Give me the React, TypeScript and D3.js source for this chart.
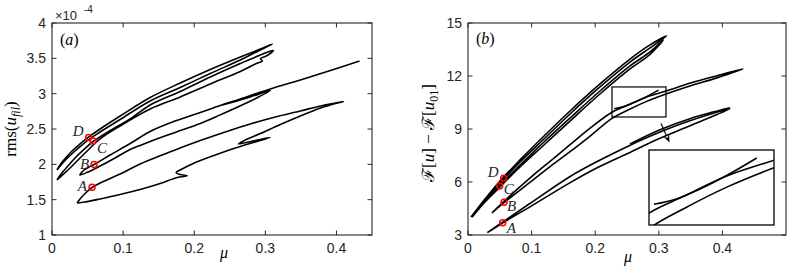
import React from "react";
import * as d3 from "d3";

type Pt = [number, number];

// ---------- panel (a): rms(u_fil) (x 1e-4) against mu ----------
const muTicksA = [0, 0.1, 0.2, 0.3, 0.4];
const rmsTicks = [1, 1.5, 2, 2.5, 3, 3.5, 4];

// branch through A (lower loop, with the small wedge and hook)
const rmsLoopA: Pt[] = [
  [0.0352, 1.453], [0.0394, 1.51], [0.0465, 1.587], [0.0563, 1.672], [0.0676, 1.736],
  [0.0958, 1.863], [0.1239, 2.005], [0.1549, 2.132], [0.1803, 2.231], [0.2085, 2.337],
  [0.2437, 2.458], [0.2789, 2.571], [0.3141, 2.67], [0.3493, 2.755], [0.3775, 2.826],
  [0.3986, 2.868], [0.4099, 2.889],
  [0.3986, 2.861], [0.3775, 2.797], [0.3493, 2.684], [0.3211, 2.564], [0.293, 2.436],
  [0.2718, 2.344], [0.262, 2.288],
  [0.2859, 2.337], [0.307, 2.38], [0.2831, 2.309], [0.2577, 2.231],
  [0.2296, 2.132], [0.1986, 2.012], [0.1803, 1.92], [0.1746, 1.885], [0.1803, 1.856],
  [0.1901, 1.838], [0.1761, 1.814], [0.1521, 1.729], [0.1239, 1.644], [0.0958, 1.573],
  [0.0676, 1.51], [0.0465, 1.467], [0.0352, 1.453],
];

// branch through B
const rmsLoopB: Pt[] = [
  [0.2394, 2.84], [0.2732, 2.935], [0.307, 3.045], [0.2718, 2.86], [0.2366, 2.7],
  [0.2085, 2.578], [0.1732, 2.451], [0.138, 2.323], [0.1099, 2.21], [0.0887, 2.09],
  [0.0676, 1.976], [0.0507, 1.892], [0.0394, 1.849], [0.0451, 1.92], [0.0521, 1.962],
  [0.0592, 1.998], [0.0817, 2.132], [0.1099, 2.295], [0.138, 2.465], [0.1732, 2.613],
  [0.2085, 2.734], [0.2366, 2.833], [0.2648, 2.925], [0.307, 3.066], [0.3493, 3.193],
  [0.3915, 3.328], [0.4324, 3.462],
];

// branch through D
const rmsLoopD: Pt[] = [
  [0.007, 1.92], [0.0127, 2.012], [0.0197, 2.097], [0.0282, 2.189], [0.0394, 2.288],
  [0.0507, 2.38], [0.0676, 2.5], [0.0958, 2.684], [0.138, 2.946], [0.1803, 3.151],
  [0.2225, 3.342], [0.2648, 3.519], [0.293, 3.632], [0.3099, 3.703],
  [0.2901, 3.604], [0.2648, 3.476], [0.2225, 3.285], [0.1803, 3.087], [0.138, 2.896],
  [0.0958, 2.634], [0.0676, 2.458], [0.0507, 2.344], [0.0324, 2.189], [0.0183, 2.054],
  [0.007, 1.92],
];

// branch through C
const rmsLoopC: Pt[] = [
  [0.007, 1.778], [0.0127, 1.863], [0.0211, 1.962], [0.0324, 2.09], [0.0465, 2.224],
  [0.0577, 2.323], [0.0817, 2.479], [0.1099, 2.642], [0.138, 2.84], [0.1803, 3.031],
  [0.2225, 3.236], [0.2648, 3.427], [0.293, 3.547], [0.3113, 3.611],
  [0.3014, 3.533], [0.293, 3.498], [0.2958, 3.462], [0.2873, 3.427], [0.2648, 3.314],
  [0.2225, 3.137], [0.1803, 2.953], [0.138, 2.783], [0.0958, 2.543], [0.0676, 2.359],
  [0.0465, 2.16], [0.0254, 1.948], [0.0141, 1.842], [0.007, 1.778],
];

const pointNames = ["A", "B", "C", "D"];
const pointMuA = [0.0563, 0.0592, 0.0577, 0.0514];
const pointRms = [1.675, 1.998, 2.33, 2.38];

// ---------- panel (b): F[u] - F[u01] against mu ----------
const muTicksB = [0, 0.1, 0.2, 0.3, 0.4];
const energyTicks = [3, 6, 9, 12, 15];

const energyLoopD: Pt[] = [
  [0.0047, 4.02], [0.0267, 5.04], [0.0503, 6.06], [0.0818, 7.25], [0.1211, 8.66],
  [0.1604, 10.02], [0.2075, 11.55], [0.2547, 12.96], [0.2862, 13.76], [0.3124, 14.27],
  [0.2862, 13.59], [0.2547, 12.79], [0.2075, 11.38], [0.1604, 9.85], [0.1211, 8.49],
  [0.0818, 7.13], [0.0503, 5.94], [0.0267, 4.98], [0.0047, 4.02],
];

const energyLoopC: Pt[] = [
  [0.0063, 4.0], [0.0267, 4.92], [0.0503, 5.83], [0.0818, 6.96], [0.1211, 8.32],
  [0.1604, 9.62], [0.2075, 11.15], [0.2547, 12.57], [0.2862, 13.36], [0.3071, 14.04],
  [0.2862, 13.22], [0.2547, 12.4], [0.2075, 10.98], [0.1604, 9.45], [0.1211, 8.15],
  [0.0818, 6.85], [0.0503, 5.72], [0.0267, 4.87], [0.0063, 4.0],
];

const energyLoopB: Pt[] = [
  [0.0377, 4.25], [0.06, 5.02], [0.1, 6.3], [0.13, 7.2], [0.16, 8.1], [0.192, 9.05],
  [0.2264, 9.95], [0.25, 10.33], [0.28, 10.8], [0.3113, 11.15], [0.35, 11.6],
  [0.39, 12.0], [0.4324, 12.4],
  [0.39, 11.88], [0.35, 11.45], [0.3113, 10.98], [0.28, 10.55], [0.25, 10.05],
  [0.2264, 9.6], [0.192, 8.6], [0.16, 7.7], [0.13, 6.9], [0.1, 6.05], [0.0566, 4.83],
  [0.0377, 4.25],
];
const energyStubB: Pt[] = [[0.2298, 10.15], [0.245, 10.27], [0.26, 10.48], [0.28, 10.82], [0.2996, 11.2]];

const energyLoopA: Pt[] = [
  [0.0304, 3.13], [0.0545, 3.68], [0.1, 4.65], [0.16, 5.95], [0.2, 6.75], [0.25, 7.6],
  [0.3, 8.45], [0.35, 9.2], [0.412, 10.15],
  [0.35, 9.48], [0.3, 8.8], [0.25, 8.0], [0.2, 7.1], [0.16, 6.3], [0.1, 4.85],
  [0.0545, 3.73], [0.0304, 3.13],
];
const energyStubA: Pt[] = [[0.2547, 8.15], [0.3, 8.93], [0.35, 9.6], [0.412, 10.2]];

const pointMuB = [0.0545, 0.0566, 0.0498, 0.0561];
const pointEnergy = [3.7, 4.85, 5.77, 6.21];

// zoom window shown in the inset
const zoomMu = [0.2264, 0.3113];
const zoomEnergy = [9.68, 11.38];
const arrowFrom: Pt = [0.3035, 9.31];
const arrowTo: Pt = [0.3168, 8.24];

const INK = "#262626";
const MATH = "'Liberation Serif', 'DejaVu Serif', serif";

function Frame({ x, y, xTicks, yTicks }: any) {
  const [x0, x1] = x.range();
  const [yb, yt] = y.range();
  const tl = 4.5;
  return (
    <g stroke={INK} fill="none">
      {xTicks.map((t: number) => (
        <g key={"x" + t}>
          <line x1={x(t)} x2={x(t)} y1={yb} y2={yb - tl} />
          <line x1={x(t)} x2={x(t)} y1={yt} y2={yt + tl} />
          <text x={x(t)} y={yb + 18} textAnchor="middle" fill={INK} stroke="none" fontSize={14}>
            {String(t)}
          </text>
        </g>
      ))}
      {yTicks.map((t: number) => (
        <g key={"y" + t}>
          <line x1={x0} x2={x0 + tl} y1={y(t)} y2={y(t)} />
          <line x1={x1} x2={x1 - tl} y1={y(t)} y2={y(t)} />
          <text x={x0 - 6} y={y(t)} dy="0.36em" textAnchor="end" fill={INK} stroke="none" fontSize={14}>
            {String(t)}
          </text>
        </g>
      ))}
      <rect x={x0} y={yt} width={x1 - x0} height={yb - yt} strokeWidth={1.1} />
    </g>
  );
}

function Markers({ x, y, mus, vals }: any) {
  return (
    <g fill="none" stroke="#ff0000" strokeWidth={1.5}>
      {mus.map((m: number, i: number) => (
        <circle key={i} cx={x(m)} cy={y(vals[i])} r={3} />
      ))}
    </g>
  );
}

export default function App() {
  const xA = d3.scaleLinear().domain([0, 0.45]).range([52, 372]);
  const yA = d3.scaleLinear().domain([1, 4]).range([235, 23]);
  const xB = d3.scaleLinear().domain([0, 0.5]).range([468, 786]);
  const yB = d3.scaleLinear().domain([3, 15]).range([235, 23]);

  const inset = { left: 649, top: 150, width: 125, height: 75 };
  const xI = d3.scaleLinear().domain(zoomMu).range([inset.left, inset.left + inset.width]);
  const yI = d3.scaleLinear().domain(zoomEnergy).range([inset.top + inset.height, inset.top]);

  const mk = (xs: any, ys: any) =>
    d3.line<Pt>().x((d) => xs(d[0])).y((d) => ys(d[1])).curve(d3.curveCatmullRom.alpha(0.5));
  const lineA = mk(xA, yA);
  const lineB = mk(xB, yB);
  const lineI = mk(xI, yI);

  const curvesA = [rmsLoopA, rmsLoopB, rmsLoopD, rmsLoopC];
  const curvesB = [energyLoopA, energyStubA, energyLoopB, energyStubB, energyLoopC, energyLoopD];

  // arrow from zoom box to inset
  const ax0 = xB(arrowFrom[0]), ay0 = yB(arrowFrom[1]);
  const ax1 = xB(arrowTo[0]), ay1 = yB(arrowTo[1]);
  const ang = Math.atan2(ay1 - ay0, ax1 - ax0);
  const hl = 8, hw = 3.2;
  const bx = ax1 - hl * Math.cos(ang), by = ay1 - hl * Math.sin(ang);
  const head = [
    [ax1, ay1],
    [bx + hw * Math.sin(ang), by - hw * Math.cos(ang)],
    [ax1 - 0.6 * hl * Math.cos(ang), ay1 - 0.6 * hl * Math.sin(ang)],
    [bx - hw * Math.sin(ang), by + hw * Math.cos(ang)],
  ].map((p) => p.join(",")).join(" ");

  const labelOffA = [[-5, 4, "end"], [-5, 5, "end"], [4, 12, "start"], [-5, -1, "end"]];
  const labelOffB = [[4, 10, "start"], [3, 9, "start"], [4, 8, "start"], [-5, -1, "end"]];

  return (
    <svg
      width={789}
      height={268}
      style={{ position: "absolute", left: 0, top: 0, background: "#fff" }}
      fontFamily="'Liberation Sans', Arial, sans-serif"
    >
      <defs>
        <clipPath id="insetClip">
          <rect x={inset.left} y={inset.top} width={inset.width} height={inset.height} />
        </clipPath>
      </defs>
      <rect width={789} height={268} fill="#fff" />

      {/* ---------- panel (a) ---------- */}
      <g fill="none" stroke="#000" strokeWidth={1.6} strokeLinejoin="round">
        {curvesA.map((c, i) => (
          <path key={i} d={lineA(c) || ""} />
        ))}
      </g>
      <Markers x={xA} y={yA} mus={pointMuA} vals={pointRms} />
      <g fontFamily={MATH} fontStyle="italic" fontSize={15} fill={INK}>
        {pointNames.map((n, i) => (
          <text key={n} x={xA(pointMuA[i]) + (labelOffA[i][0] as number)} y={yA(pointRms[i]) + (labelOffA[i][1] as number)} textAnchor={labelOffA[i][2] as any}>
            {n}
          </text>
        ))}
      </g>
      <Frame x={xA} y={yA} xTicks={muTicksA} yTicks={rmsTicks} />
      <text x={55} y={20} fontSize={13} fill={INK}>×10</text>
      <text x={84} y={13} fontSize={10} fill={INK}>-4</text>
      <text x={60} y={45} fontFamily={MATH} fontSize={16} fill="#000">
        (<tspan fontStyle="italic">a</tspan>)
      </text>
      <text transform="translate(16,129) rotate(-90)" textAnchor="middle" fontFamily={MATH} fontSize={17} fill="#000">
        rms(<tspan fontStyle="italic">u</tspan>
        <tspan fontStyle="italic" fontSize={12} dy={4}>fil</tspan>
        <tspan dy={-4}>)</tspan>
      </text>
      <text x={224} y={258} textAnchor="middle" fontFamily={MATH} fontStyle="italic" fontSize={16} fill="#000">μ</text>

      {/* ---------- panel (b) ---------- */}
      <g fill="none" stroke="#000" strokeWidth={1.6} strokeLinejoin="round">
        {curvesB.map((c, i) => (
          <path key={i} d={lineB(c) || ""} />
        ))}
      </g>
      <Markers x={xB} y={yB} mus={pointMuB} vals={pointEnergy} />
      <g fontFamily={MATH} fontStyle="italic" fontSize={15} fill={INK}>
        {pointNames.map((n, i) => (
          <text key={n} x={xB(pointMuB[i]) + (labelOffB[i][0] as number)} y={yB(pointEnergy[i]) + (labelOffB[i][1] as number)} textAnchor={labelOffB[i][2] as any}>
            {n}
          </text>
        ))}
      </g>

      {/* zoom window and arrow */}
      <rect
        x={xB(zoomMu[0])}
        y={yB(zoomEnergy[1])}
        width={xB(zoomMu[1]) - xB(zoomMu[0])}
        height={yB(zoomEnergy[0]) - yB(zoomEnergy[1])}
        fill="none"
        stroke="#000"
        strokeWidth={1.2}
      />
      <line x1={ax0} y1={ay0} x2={bx} y2={by} stroke="#000" strokeWidth={1.2} />
      <polygon points={head} fill="#000" />

      {/* inset */}
      <rect x={inset.left} y={inset.top} width={inset.width} height={inset.height} fill="#fff" />
      <g clipPath="url(#insetClip)" fill="none" stroke="#000" strokeWidth={1.6} strokeLinejoin="round">
        {curvesB.map((c, i) => (
          <path key={i} d={lineI(c) || ""} />
        ))}
      </g>
      <rect x={inset.left} y={inset.top} width={inset.width} height={inset.height} fill="none" stroke="#000" strokeWidth={1.3} />

      <Frame x={xB} y={yB} xTicks={muTicksB} yTicks={energyTicks} />
      <text x={476} y={44} fontFamily={MATH} fontSize={16} fill="#000">
        (<tspan fontStyle="italic">b</tspan>)
      </text>
      <text transform="translate(434,133) rotate(-90)" textAnchor="middle" fontFamily={MATH} fontSize={17} fill="#000">
        ℱ[<tspan fontStyle="italic">u</tspan>] − ℱ[<tspan fontStyle="italic">u</tspan>
        <tspan fontSize={12} dy={4}>01</tspan>
        <tspan dy={-4}>]</tspan>
      </text>
      <text x={628} y={262} textAnchor="middle" fontFamily={MATH} fontStyle="italic" fontSize={16} fill="#000">μ</text>
    </svg>
  );
}
